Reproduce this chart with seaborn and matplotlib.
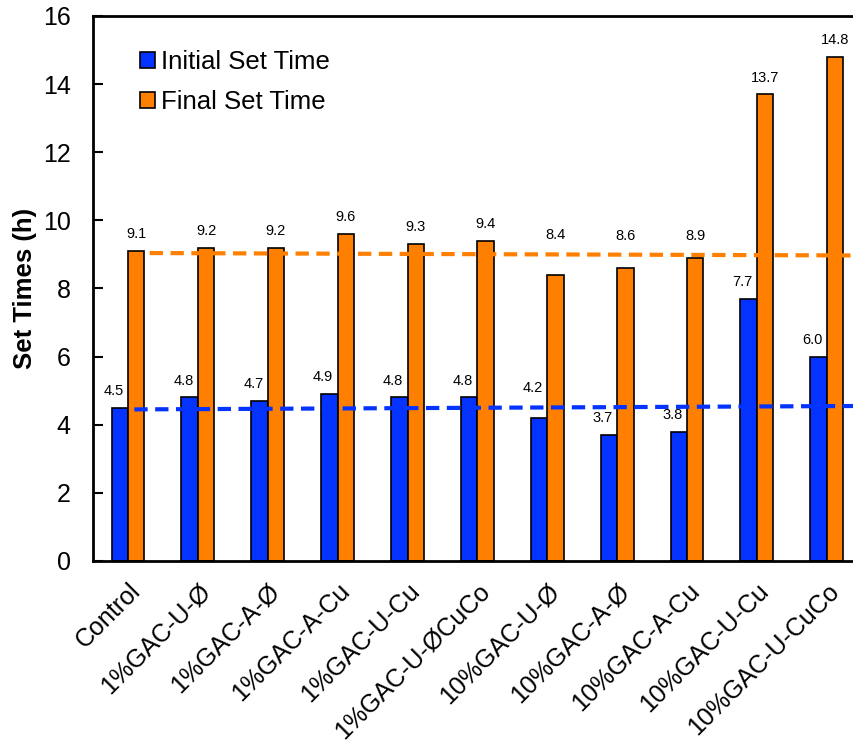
import pandas as pd
import numpy as np
import matplotlib
matplotlib.use('Agg')
import matplotlib.pyplot as plt
import seaborn as sns

# ===== 数据 =====
samples = ['Control', '1%GAC-U-Ø', '1%GAC-A-Ø', '1%GAC-A-Cu', '1%GAC-U-Cu',
           '1%GAC-U-ØCuCo', '10%GAC-U-Ø', '10%GAC-A-Ø', '10%GAC-A-Cu',
           '10%GAC-U-Cu', '10%GAC-U-CuCo']
initial_set = [4.5, 4.8, 4.7, 4.9, 4.8, 4.8, 4.2, 3.7, 3.8, 7.7, 6.0]
final_set = [9.1, 9.2, 9.2, 9.6, 9.3, 9.4, 8.4, 8.6, 8.9, 13.7, 14.8]
series_names = ['Initial Set Time', 'Final Set Time']

# 虚线趋势线（起止x、起止y）
initial_trend_x = [0.09, 10.4]
initial_trend_y = [4.45, 4.55]
final_trend_x = [0.31, 10.4]
final_trend_y = [9.04, 8.97]

df = pd.DataFrame({
    'sample': samples * 2,
    'value': initial_set + final_set,
    'series': [series_names[0]] * len(samples) + [series_names[1]] * len(samples),
})

sns.set_style('white')
plt.rcParams['font.family'] = ['Liberation Sans', 'DejaVu Sans']
plt.rcParams['text.color'] = 'black'
plt.rcParams['axes.labelcolor'] = 'black'
plt.rcParams['xtick.color'] = 'black'
plt.rcParams['ytick.color'] = 'black'

colors = ['#0433FF', '#FF7F00']

fig = plt.figure(figsize=(8.54, 7.44), dpi=100)
ax = fig.add_axes([0.109, 0.246, 0.891, 0.7325])

sns.barplot(data=df, x='sample', y='value', hue='series', order=samples,
            hue_order=series_names, palette=colors, width=0.47,
            edgecolor='black', linewidth=1.2, saturation=1, ax=ax)

# 数值标签（标签若会压在虚线上，则抬到虚线上方）
trends = [(initial_trend_x, initial_trend_y), (final_trend_x, final_trend_y)]
for i, cont in enumerate(ax.containers):
    dx = -4.5 if i == 0 else 0
    tx, ty = trends[i]
    for bar in cont:
        h = bar.get_height()
        xc = bar.get_x() + bar.get_width() / 2
        line_y = np.interp(xc, tx, ty)
        y = h
        if 0 < line_y - h < 0.65:
            y = line_y + 0.07
        ax.annotate(f'{h:.1f}', (xc, y),
                    xytext=(dx, 7), textcoords='offset points',
                    ha='center', va='bottom', fontsize=10.5, color='black')

ax.plot(initial_trend_x, initial_trend_y, '--', color='#0433FF', lw=3, dashes=(3.2, 1.8))
ax.plot(final_trend_x, final_trend_y, '--', color='#FF7F00', lw=3, dashes=(3.2, 1.8))

ax.set_xlim(-0.5, 10.39)
ax.set_ylim(0, 16)
ax.set_yticks(range(0, 17, 2))
ax.tick_params(axis='y', direction='in', length=7, width=1.5, labelsize=18, pad=16, left=True)
ax.tick_params(axis='x', length=0, labelsize=18, pad=13)
plt.setp(ax.get_xticklabels(), rotation=45, ha='right', rotation_mode='anchor')
ax.set_xlabel('')
ax.set_ylabel('Set Times (h)', fontsize=18.5, fontweight='bold', labelpad=4)

for s in ['left', 'bottom', 'top']:
    ax.spines[s].set_linewidth(2)
    ax.spines[s].set_color('black')
ax.spines['right'].set_visible(False)

leg = ax.legend(loc='upper left', bbox_to_anchor=(0.048, 0.957), frameon=False,
                borderaxespad=0, fontsize=18.5, handlelength=0.58, handleheight=0.58,
                handletextpad=0.25, labelspacing=0.65)

plt.savefig('out.png', dpi=100)
